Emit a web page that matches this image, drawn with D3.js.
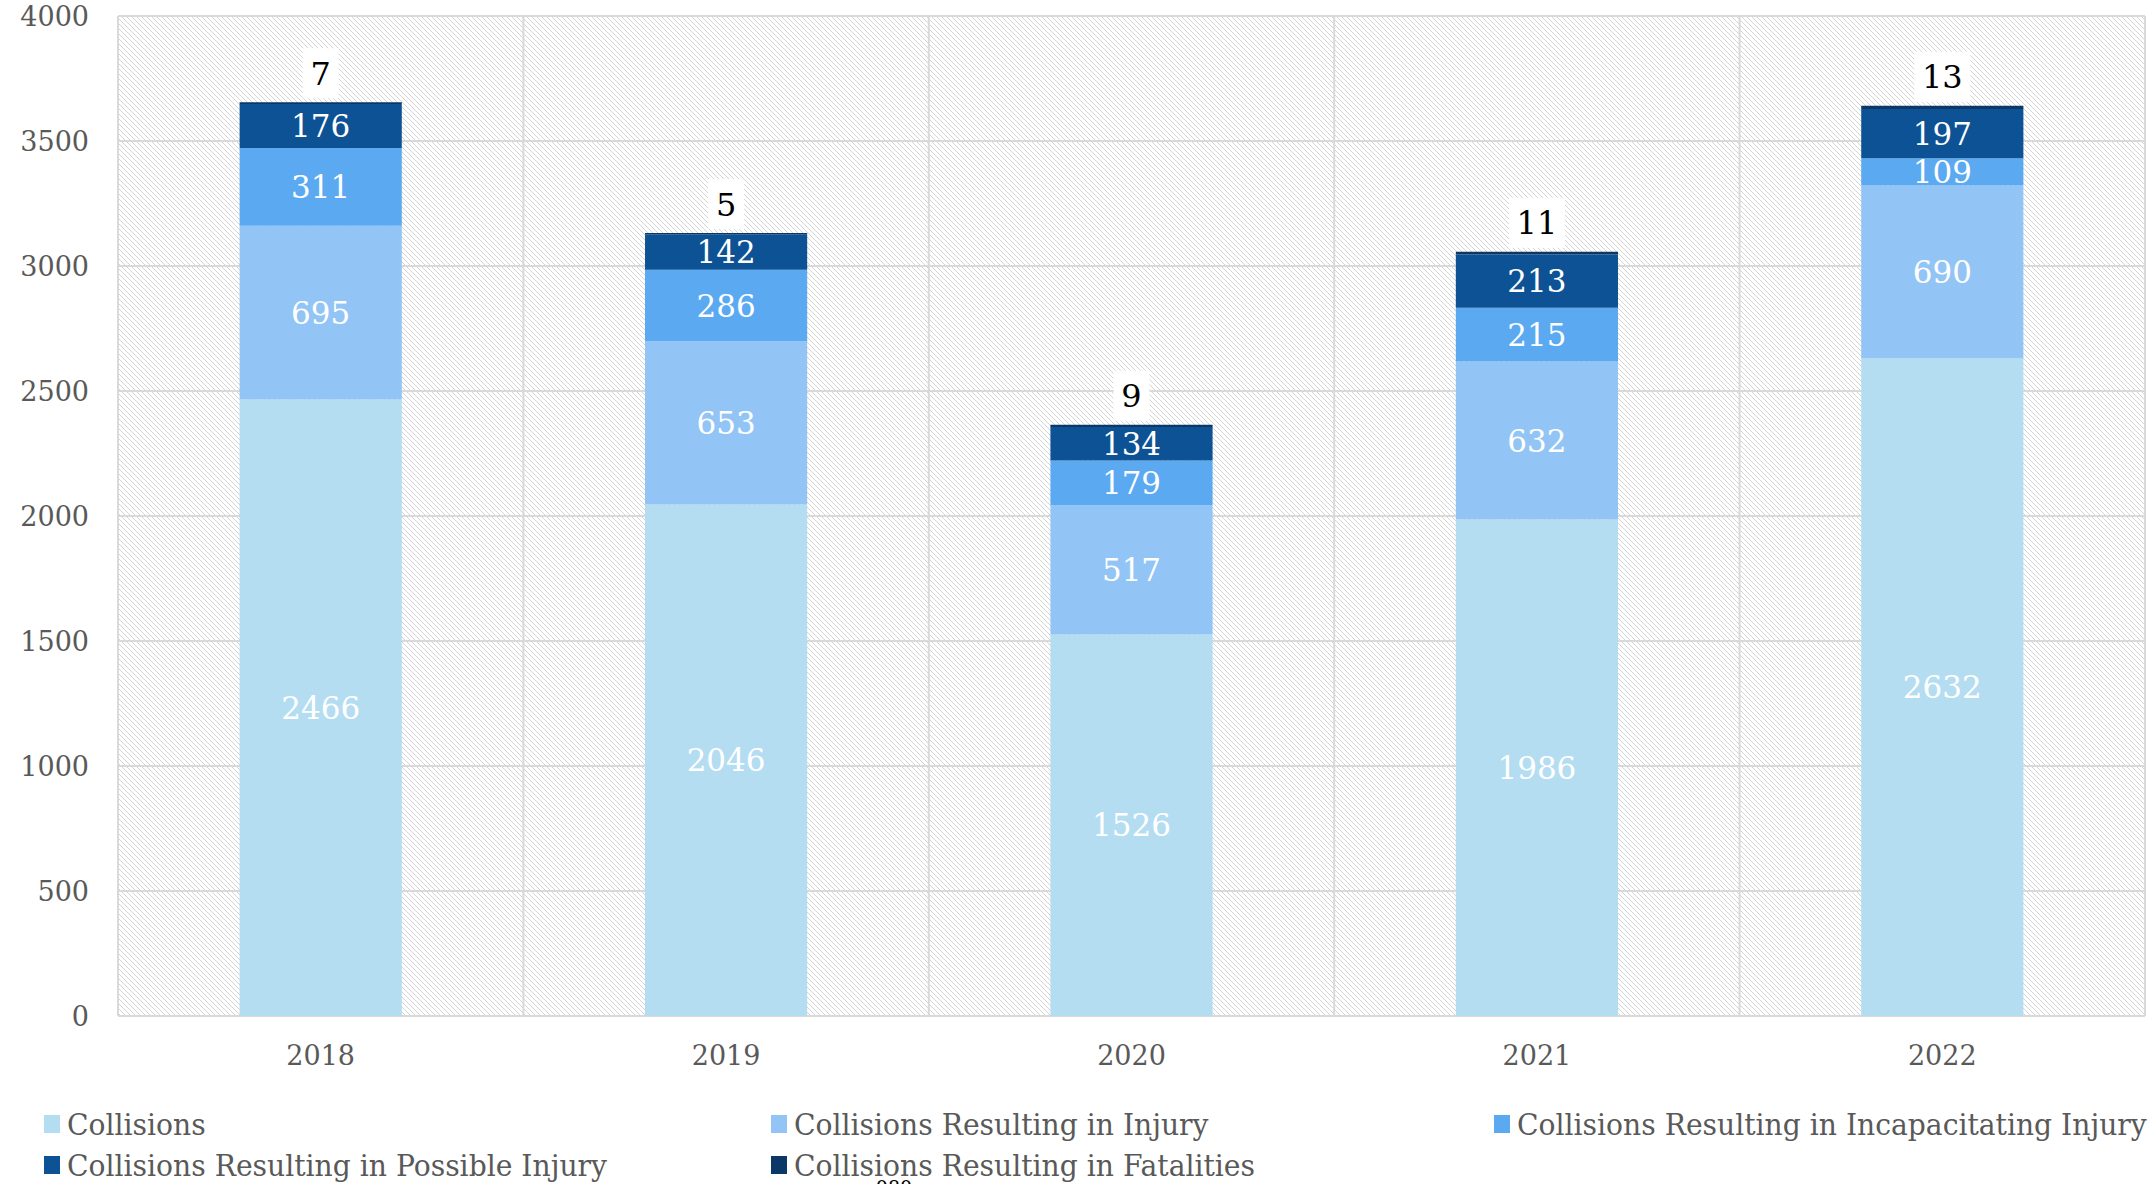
<!DOCTYPE html>
<html>
<head>
<meta charset="utf-8">
<script src="https://cdn.jsdelivr.net/npm/d3@7"></script>
<style>
  html, body { margin: 0; padding: 0; background: #fff; }
  svg { display: block; font-family: "DejaVu Serif", Georgia, serif; }
</style>
</head>
<body>
<div id="chart"></div>
<script>
// values
const years = ['2018', '2019', '2020', '2021', '2022'];
const collisions = [2466, 2046, 1526, 1986, 2632];
const injury = [695, 653, 517, 632, 690];
const incapacitating = [311, 286, 179, 215, 109];
const possible = [176, 142, 134, 213, 197];
const fatalities = [7, 5, 9, 11, 13];
const yTicks = [0, 500, 1000, 1500, 2000, 2500, 3000, 3500, 4000];

const seriesNames = [
  'Collisions',
  'Collisions Resulting in Injury',
  'Collisions Resulting in Incapacitating Injury',
  'Collisions Resulting in Possible Injury',
  'Collisions Resulting in Fatalities'
];
const seriesKeys = ['collisions', 'injury', 'incapacitating', 'possible', 'fatalities'];
const colors = ['#b4ddf2', '#92c5f5', '#5aa9f1', '#0d5294', '#0b3866'];

const width = 2154, height = 1184;
const margin = {top: 16, right: 9, bottom: 168, left: 118};

const rows = years.map((yr, i) => ({
  year: yr,
  collisions: collisions[i],
  injury: injury[i],
  incapacitating: incapacitating[i],
  possible: possible[i],
  fatalities: fatalities[i]
}));

const svg = d3.select('#chart').append('svg')
    .attr('width', width)
    .attr('height', height);

// hatch background
const defs = svg.append('defs');
defs.append('pattern')
    .attr('id', 'hatch')
    .attr('patternUnits', 'userSpaceOnUse')
    .attr('width', 5)
    .attr('height', 5)
  .append('path')
    .attr('d', 'M-1,-1 L6,6 M-1,4 L1,6 M4,-1 L6,1')
    .attr('stroke', '#d4d4d4')
    .attr('stroke-width', 1);

const x = d3.scaleBand()
    .domain(years)
    .range([margin.left, width - margin.right]);

const y = d3.scaleLinear()
    .domain([0, 4000])
    .range([height - margin.bottom, margin.top]);

const barW = x.bandwidth() * 0.4;

svg.append('rect')
    .attr('x', margin.left)
    .attr('y', margin.top)
    .attr('width', width - margin.left - margin.right)
    .attr('height', height - margin.top - margin.bottom)
    .attr('fill', 'url(#hatch)');

// grid: horizontal
svg.append('g')
  .selectAll('line')
    .data(yTicks)
  .enter().append('line')
    .attr('x1', margin.left)
    .attr('x2', width - margin.right)
    .attr('y1', d => y(d))
    .attr('y2', d => y(d))
    .attr('stroke', '#d9d9d9')
    .attr('stroke-width', 2);

// grid: vertical category boundaries
svg.append('g')
  .selectAll('line')
    .data(years.concat(['end']))
  .enter().append('line')
    .attr('x1', d => d === 'end' ? width - margin.right : x(d))
    .attr('x2', d => d === 'end' ? width - margin.right : x(d))
    .attr('y1', margin.top)
    .attr('y2', height - margin.bottom)
    .attr('stroke', '#d9d9d9')
    .attr('stroke-width', 2);

// y labels
svg.append('g')
  .selectAll('text')
    .data(yTicks)
  .enter().append('text')
    .attr('x', 89)
    .attr('y', d => y(d))
    .attr('dy', '0.36em')
    .attr('text-anchor', 'end')
    .attr('fill', '#595959')
    .style('font-size', '27px')
    .text(d => d);

// x labels
svg.append('g')
  .selectAll('text')
    .data(years)
  .enter().append('text')
    .attr('x', d => x(d) + x.bandwidth() / 2)
    .attr('y', 1065)
    .attr('text-anchor', 'middle')
    .attr('fill', '#595959')
    .style('font-size', '27px')
    .text(d => d);

// stacked bars
const stacked = d3.stack().keys(seriesKeys)(rows);

const layers = svg.append('g')
  .selectAll('g')
    .data(stacked)
  .enter().append('g')
    .attr('fill', (d, i) => colors[i]);

layers.selectAll('rect')
    .data(d => d)
  .enter().append('rect')
    .attr('x', d => x(d.data.year) + (x.bandwidth() - barW) / 2)
    .attr('y', d => y(d[1]))
    .attr('width', barW)
    .attr('height', d => y(d[0]) - y(d[1]));

// segment labels (all but fatalities)
stacked.slice(0, 4).forEach(layer => {
  svg.append('g')
    .selectAll('text')
      .data(layer)
    .enter().append('text')
      .attr('x', d => x(d.data.year) + x.bandwidth() / 2)
      .attr('y', d => (y(d[0]) + y(d[1])) / 2)
      .attr('dy', '0.36em')
      .attr('text-anchor', 'middle')
      .attr('fill', '#fff')
      .style('font-size', '31px')
      .text(d => d[1] - d[0]);
});

// fatalities labels with white box above bar
const fatalLayer = stacked[4];
const fl = svg.append('g')
  .selectAll('g')
    .data(fatalLayer)
  .enter().append('g')
    .attr('transform', d => `translate(${x(d.data.year) + x.bandwidth() / 2},${y(d[1]) - 4})`);

fl.append('rect')
    .attr('x', d => -(String(d[1] - d[0]).length * 10 + 8))
    .attr('y', -50)
    .attr('width', d => String(d[1] - d[0]).length * 20 + 16)
    .attr('height', 50)
    .attr('fill', '#fff');

fl.append('text')
    .attr('y', -25)
    .attr('dy', '0.36em')
    .attr('text-anchor', 'middle')
    .attr('fill', '#000')
    .style('font-size', '32px')
    .text(d => d[1] - d[0]);

// legend
const legendCols = [44, 771, 1494];
const legend = svg.append('g')
  .selectAll('g')
    .data(seriesNames)
  .enter().append('g')
    .attr('transform', (d, i) => `translate(${legendCols[i % 3]},${1135 + Math.floor(i / 3) * 41})`);

legend.append('rect')
    .attr('x', 0)
    .attr('y', -20)
    .attr('width', 16)
    .attr('height', 18)
    .attr('fill', (d, i) => colors[i]);

legend.append('text')
    .attr('transform', 'translate(23,0) scale(0.94,1)')
    .attr('fill', '#595959')
    .style('font-size', '30px')
    .text(d => d);

// stray clipped label at the bottom edge
svg.append('text')
    .attr('x', 894)
    .attr('y', 1194)
    .attr('text-anchor', 'middle')
    .attr('fill', '#000')
    .style('font-size', '19px')
    .text('080');
</script>
</body>
</html>
